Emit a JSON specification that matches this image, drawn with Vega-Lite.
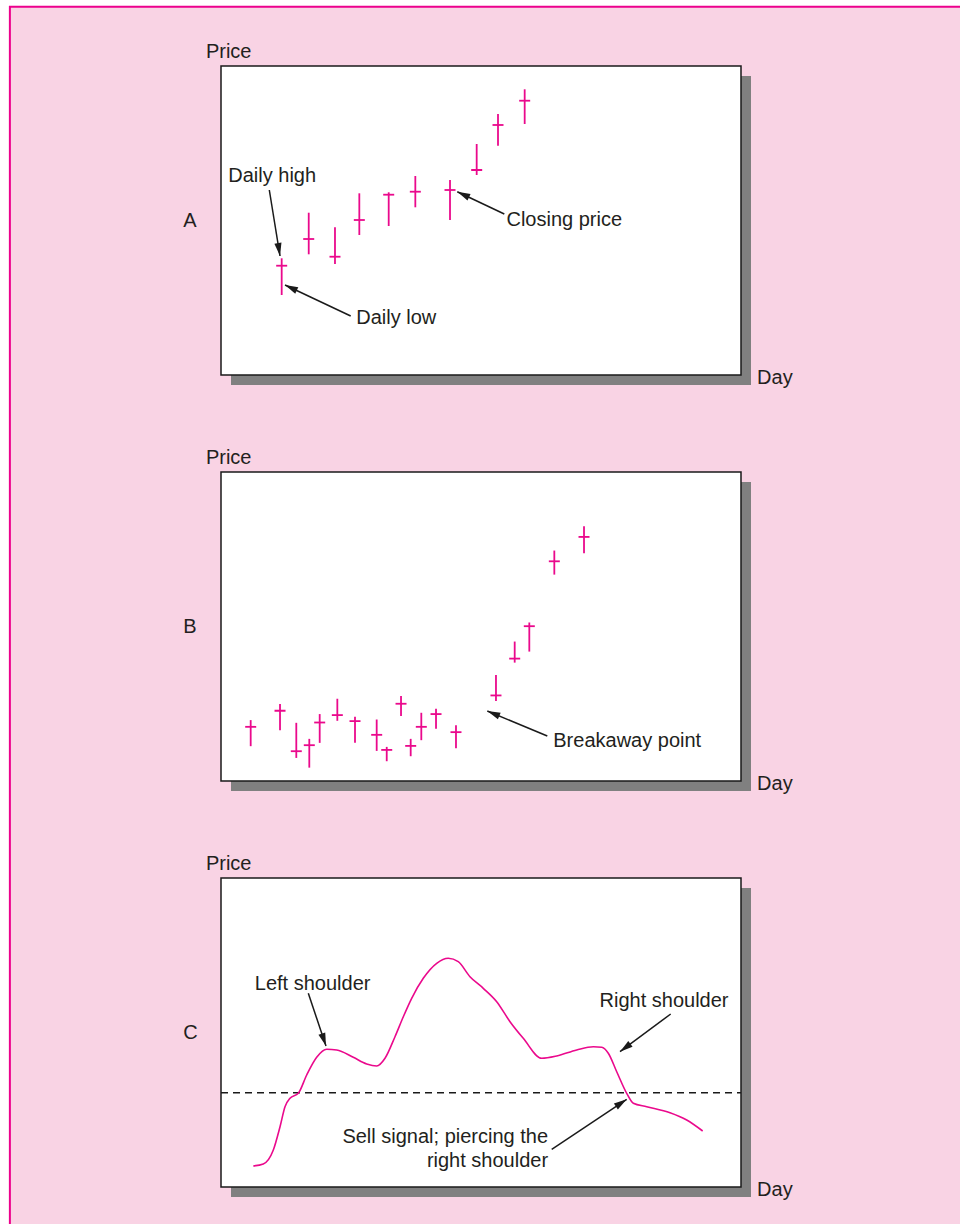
{
  "$schema": "https://vega.github.io/schema/vega-lite/v6.json",
  "autosize": {"type": "none"},
  "padding": {"left": 221, "top": 66, "right": 739, "bottom": 1158},
  "background": "white",
  "config": {
    "view": {"stroke": null, "fill": null},
    "text": {"font": "Liberation Sans", "fontSize": 20, "color": "#231f20"}
  },
  "datasets": {
    "one": [{}],
    "barsA": [
      {"day": 11.67, "low": 25.89, "high": 37.77, "close": 35.37},
      {"day": 16.87, "low": 39.06, "high": 52.52, "close": 44.01},
      {"day": 21.92, "low": 35.92, "high": 47.80, "close": 38.28},
      {"day": 26.60, "low": 45.31, "high": 58.80, "close": 50.16},
      {"day": 32.25, "low": 48.22, "high": 59.13, "close": 58.35},
      {"day": 37.37, "low": 54.27, "high": 64.40, "close": 59.32},
      {"day": 44.04, "low": 50.16, "high": 63.11, "close": 59.87},
      {"day": 49.17, "low": 64.72, "high": 74.76, "close": 66.34},
      {"day": 53.27, "low": 74.21, "high": 84.47, "close": 80.91},
      {"day": 58.40, "low": 81.23, "high": 92.46, "close": 88.77}
    ],
    "barsB": [
      {"day": 5.71, "low": 11.27, "high": 19.71, "close": 17.53},
      {"day": 11.35, "low": 16.46, "high": 24.90, "close": 22.73},
      {"day": 14.48, "low": 7.47, "high": 18.83, "close": 9.64},
      {"day": 16.98, "low": 4.32, "high": 13.64, "close": 11.59},
      {"day": 18.98, "low": 12.34, "high": 21.66, "close": 18.93},
      {"day": 22.37, "low": 19.48, "high": 26.62, "close": 21.33},
      {"day": 25.77, "low": 12.34, "high": 20.78, "close": 19.38},
      {"day": 29.94, "low": 9.74, "high": 19.90, "close": 14.94},
      {"day": 31.87, "low": 6.40, "high": 11.04, "close": 10.06},
      {"day": 34.62, "low": 21.01, "high": 27.50, "close": 25.00},
      {"day": 36.48, "low": 8.02, "high": 13.64, "close": 11.36},
      {"day": 38.52, "low": 13.21, "high": 22.08, "close": 17.53},
      {"day": 41.35, "low": 16.88, "high": 23.38, "close": 21.66},
      {"day": 45.19, "low": 10.62, "high": 18.08, "close": 15.81},
      {"day": 52.88, "low": 25.88, "high": 34.32, "close": 27.69},
      {"day": 56.48, "low": 38.31, "high": 45.13, "close": 39.61},
      {"day": 59.29, "low": 41.88, "high": 51.30, "close": 50.10},
      {"day": 64.10, "low": 66.79, "high": 74.58, "close": 71.10},
      {"day": 69.81, "low": 73.70, "high": 82.47, "close": 78.99}
    ],
    "curveC": [
      {"day": 6.21, "price": 6.80},
      {"day": 8.13, "price": 7.44},
      {"day": 10.06, "price": 11.97},
      {"day": 11.35, "price": 19.51},
      {"day": 12.31, "price": 25.99},
      {"day": 13.27, "price": 28.71},
      {"day": 14.87, "price": 30.32},
      {"day": 16.48, "price": 36.25},
      {"day": 18.40, "price": 41.97},
      {"day": 20.33, "price": 44.56},
      {"day": 22.25, "price": 44.34},
      {"day": 25.44, "price": 41.97},
      {"day": 28.02, "price": 39.81},
      {"day": 29.94, "price": 39.16},
      {"day": 31.54, "price": 41.65},
      {"day": 33.46, "price": 48.64},
      {"day": 35.06, "price": 55.11},
      {"day": 36.67, "price": 61.07},
      {"day": 38.90, "price": 67.54},
      {"day": 41.48, "price": 72.39},
      {"day": 43.71, "price": 74.01},
      {"day": 45.63, "price": 72.91},
      {"day": 47.88, "price": 68.06},
      {"day": 50.44, "price": 64.30},
      {"day": 53.02, "price": 59.97},
      {"day": 55.58, "price": 53.50},
      {"day": 58.13, "price": 48.12},
      {"day": 61.67, "price": 41.65},
      {"day": 64.56, "price": 42.39},
      {"day": 68.40, "price": 44.34},
      {"day": 71.60, "price": 45.40},
      {"day": 73.21, "price": 45.21},
      {"day": 74.48, "price": 43.27},
      {"day": 76.10, "price": 37.31},
      {"day": 78.02, "price": 30.32},
      {"day": 79.29, "price": 27.09},
      {"day": 81.87, "price": 25.99},
      {"day": 86.35, "price": 24.05},
      {"day": 89.56, "price": 21.68},
      {"day": 92.63, "price": 18.12}
    ],
    "arrows": [
      {"panel": "A", "day": 9.29, "price": 59.87, "day2": 11.35, "price2": 38.51},
      {"panel": "A", "day": 24.94, "price": 19.09, "day2": 12.31, "price2": 29.13},
      {"panel": "A", "day": 54.48, "price": 52.10, "day2": 45.44, "price2": 59.32},
      {"panel": "B", "day": 62.75, "price": 14.56, "day2": 51.21, "price2": 22.65},
      {"panel": "C", "day": 16.79, "price": 62.69, "day2": 20.19, "price2": 45.63},
      {"panel": "C", "day": 86.48, "price": 55.99, "day2": 76.73, "price2": 43.79},
      {"panel": "C", "day": 63.60, "price": 12.20, "day2": 78.02, "price2": 28.38}
    ],
    "notes": [
      {"panel": "A", "text": "Price", "day": -2.9, "price": 102.6},
      {"panel": "A", "text": "A", "day": -7.25, "price": 48.0},
      {"panel": "A", "text": "Day", "day": 103.1, "price": -2.9},
      {"panel": "A", "text": "Daily high", "day": 1.4, "price": 62.6},
      {"panel": "A", "text": "Daily low", "day": 26.0, "price": 16.4},
      {"panel": "A", "text": "Closing price", "day": 54.9, "price": 48.3},
      {"panel": "B", "text": "Price", "day": -2.9, "price": 102.6},
      {"panel": "B", "text": "B", "day": -7.25, "price": 48.0},
      {"panel": "B", "text": "Day", "day": 103.1, "price": -2.9},
      {"panel": "B", "text": "Breakaway point", "day": 63.9, "price": 11.0},
      {"panel": "C", "text": "Price", "day": -2.9, "price": 102.6},
      {"panel": "C", "text": "C", "day": -7.25, "price": 48.0},
      {"panel": "C", "text": "Day", "day": 103.1, "price": -2.9},
      {"panel": "C", "text": "Left shoulder", "day": 6.5, "price": 63.8},
      {"panel": "C", "text": "Right shoulder", "day": 72.8, "price": 58.4}
    ],
    "notesRight": [
      {"panel": "C", "text": "Sell signal; piercing the", "day": 62.9, "price": 14.1},
      {"panel": "C", "text": "right shoulder", "day": 62.9, "price": 6.6}
    ]
  },
  "spacing": 97,
  "bounds": "flush",
  "vconcat": [
    {
      "width": 520,
      "height": 309,
      "layer": [
        {
          "data": {"name": "one"},
          "mark": {"type": "rect", "fill": "#f9d3e4", "stroke": "#ec008c", "strokeWidth": 2},
          "encoding": {
            "x": {"datum": -40.6, "type": "quantitative", "scale": {"domain": [0, 100]}, "axis": null},
            "x2": {"datum": 150},
            "y": {"datum": 119.2, "type": "quantitative", "scale": {"domain": [0, 100]}, "axis": null},
            "y2": {"datum": -290}
          }
        },
        {
          "data": {"name": "one"},
          "mark": {"type": "rect", "color": "#808080", "xOffset": 10, "x2Offset": 10, "yOffset": 10, "y2Offset": 10},
          "encoding": {
            "x": {"datum": 0, "type": "quantitative", "scale": {"domain": [0, 100]}, "axis": null},
            "x2": {"datum": 100},
            "y": {"datum": 0, "type": "quantitative", "scale": {"domain": [0, 100]}, "axis": null},
            "y2": {"datum": 100}
          }
        },
        {
          "data": {"name": "one"},
          "mark": {"type": "rect", "fill": "white", "stroke": "#1a1a1a", "strokeWidth": 1.5},
          "encoding": {
            "x": {"datum": 0, "type": "quantitative", "scale": {"domain": [0, 100]}, "axis": null},
            "x2": {"datum": 100},
            "y": {"datum": 0, "type": "quantitative", "scale": {"domain": [0, 100]}, "axis": null},
            "y2": {"datum": 100}
          }
        },
        {
          "data": {"name": "barsA"},
          "mark": {"type": "rule", "color": "#ea098c", "strokeWidth": 1.8},
          "encoding": {
            "x": {"field": "day", "type": "quantitative", "scale": {"domain": [0, 100]}, "axis": null},
            "y": {"field": "low", "type": "quantitative", "scale": {"domain": [0, 100]}, "axis": null},
            "y2": {"field": "high"}
          }
        },
        {
          "data": {"name": "barsA"},
          "mark": {"type": "tick", "orient": "horizontal", "color": "#ea098c", "size": 11, "thickness": 1.8, "opacity": 1},
          "encoding": {
            "x": {"field": "day", "type": "quantitative", "scale": {"domain": [0, 100]}, "axis": null},
            "y": {"field": "close", "type": "quantitative", "scale": {"domain": [0, 100]}, "axis": null}
          }
        },
        {
          "data": {"name": "arrows"},
          "transform": [{"filter": "datum.panel === 'A'"}],
          "mark": {"type": "rule", "color": "#1a1a1a", "strokeWidth": 1.5},
          "encoding": {
            "x": {"field": "day", "type": "quantitative", "scale": {"domain": [0, 100]}, "axis": null},
            "y": {"field": "price", "type": "quantitative", "scale": {"domain": [0, 100]}, "axis": null},
            "x2": {"field": "day2"},
            "y2": {"field": "price2"}
          }
        },
        {
          "data": {"name": "arrows"},
          "transform": [
            {"filter": "datum.panel === 'A'"},
            {"calculate": "atan2((datum.day2 - datum.day) * 5.2, (datum.price2 - datum.price) * 3.09) * 180 / PI", "as": "ang"}
          ],
          "mark": {"type": "point", "shape": "M0,0L-0.55,2L0.55,2Z", "filled": true, "color": "#1a1a1a", "size": 169, "opacity": 1},
          "encoding": {
            "x": {"field": "day2", "type": "quantitative", "scale": {"domain": [0, 100]}, "axis": null},
            "y": {"field": "price2", "type": "quantitative", "scale": {"domain": [0, 100]}, "axis": null},
            "angle": {"field": "ang", "type": "quantitative", "scale": null}
          }
        },
        {
          "data": {"name": "notes"},
          "transform": [{"filter": "datum.panel === 'A'"}],
          "mark": {"type": "text", "align": "left", "baseline": "alphabetic"},
          "encoding": {
            "x": {"field": "day", "type": "quantitative", "scale": {"domain": [0, 100]}, "axis": null},
            "y": {"field": "price", "type": "quantitative", "scale": {"domain": [0, 100]}, "axis": null},
            "text": {"field": "text"}
          }
        }
      ]
    },
    {
      "width": 520,
      "height": 309,
      "layer": [
        {
          "data": {"name": "one"},
          "mark": {"type": "rect", "color": "#808080", "xOffset": 10, "x2Offset": 10, "yOffset": 10, "y2Offset": 10},
          "encoding": {
            "x": {"datum": 0, "type": "quantitative", "scale": {"domain": [0, 100]}, "axis": null},
            "x2": {"datum": 100},
            "y": {"datum": 0, "type": "quantitative", "scale": {"domain": [0, 100]}, "axis": null},
            "y2": {"datum": 100}
          }
        },
        {
          "data": {"name": "one"},
          "mark": {"type": "rect", "fill": "white", "stroke": "#1a1a1a", "strokeWidth": 1.5},
          "encoding": {
            "x": {"datum": 0, "type": "quantitative", "scale": {"domain": [0, 100]}, "axis": null},
            "x2": {"datum": 100},
            "y": {"datum": 0, "type": "quantitative", "scale": {"domain": [0, 100]}, "axis": null},
            "y2": {"datum": 100}
          }
        },
        {
          "data": {"name": "barsB"},
          "mark": {"type": "rule", "color": "#ea098c", "strokeWidth": 1.8},
          "encoding": {
            "x": {"field": "day", "type": "quantitative", "scale": {"domain": [0, 100]}, "axis": null},
            "y": {"field": "low", "type": "quantitative", "scale": {"domain": [0, 100]}, "axis": null},
            "y2": {"field": "high"}
          }
        },
        {
          "data": {"name": "barsB"},
          "mark": {"type": "tick", "orient": "horizontal", "color": "#ea098c", "size": 11, "thickness": 1.8, "opacity": 1},
          "encoding": {
            "x": {"field": "day", "type": "quantitative", "scale": {"domain": [0, 100]}, "axis": null},
            "y": {"field": "close", "type": "quantitative", "scale": {"domain": [0, 100]}, "axis": null}
          }
        },
        {
          "data": {"name": "arrows"},
          "transform": [{"filter": "datum.panel === 'B'"}],
          "mark": {"type": "rule", "color": "#1a1a1a", "strokeWidth": 1.5},
          "encoding": {
            "x": {"field": "day", "type": "quantitative", "scale": {"domain": [0, 100]}, "axis": null},
            "y": {"field": "price", "type": "quantitative", "scale": {"domain": [0, 100]}, "axis": null},
            "x2": {"field": "day2"},
            "y2": {"field": "price2"}
          }
        },
        {
          "data": {"name": "arrows"},
          "transform": [
            {"filter": "datum.panel === 'B'"},
            {"calculate": "atan2((datum.day2 - datum.day) * 5.2, (datum.price2 - datum.price) * 3.09) * 180 / PI", "as": "ang"}
          ],
          "mark": {"type": "point", "shape": "M0,0L-0.55,2L0.55,2Z", "filled": true, "color": "#1a1a1a", "size": 169, "opacity": 1},
          "encoding": {
            "x": {"field": "day2", "type": "quantitative", "scale": {"domain": [0, 100]}, "axis": null},
            "y": {"field": "price2", "type": "quantitative", "scale": {"domain": [0, 100]}, "axis": null},
            "angle": {"field": "ang", "type": "quantitative", "scale": null}
          }
        },
        {
          "data": {"name": "notes"},
          "transform": [{"filter": "datum.panel === 'B'"}],
          "mark": {"type": "text", "align": "left", "baseline": "alphabetic"},
          "encoding": {
            "x": {"field": "day", "type": "quantitative", "scale": {"domain": [0, 100]}, "axis": null},
            "y": {"field": "price", "type": "quantitative", "scale": {"domain": [0, 100]}, "axis": null},
            "text": {"field": "text"}
          }
        }
      ]
    },
    {
      "width": 520,
      "height": 309,
      "layer": [
        {
          "data": {"name": "one"},
          "mark": {"type": "rect", "color": "#808080", "xOffset": 10, "x2Offset": 10, "yOffset": 10, "y2Offset": 10},
          "encoding": {
            "x": {"datum": 0, "type": "quantitative", "scale": {"domain": [0, 100]}, "axis": null},
            "x2": {"datum": 100},
            "y": {"datum": 0, "type": "quantitative", "scale": {"domain": [0, 100]}, "axis": null},
            "y2": {"datum": 100}
          }
        },
        {
          "data": {"name": "one"},
          "mark": {"type": "rect", "fill": "white", "stroke": "#1a1a1a", "strokeWidth": 1.5},
          "encoding": {
            "x": {"datum": 0, "type": "quantitative", "scale": {"domain": [0, 100]}, "axis": null},
            "x2": {"datum": 100},
            "y": {"datum": 0, "type": "quantitative", "scale": {"domain": [0, 100]}, "axis": null},
            "y2": {"datum": 100}
          }
        },
        {
          "data": {"name": "one"},
          "mark": {"type": "rule", "color": "#1a1a1a", "strokeWidth": 1.3, "strokeDash": [7, 5]},
          "encoding": {
            "x": {"datum": 0, "type": "quantitative", "scale": {"domain": [0, 100]}, "axis": null},
            "x2": {"datum": 100},
            "y": {"datum": 30.5, "type": "quantitative", "scale": {"domain": [0, 100]}, "axis": null}
          }
        },
        {
          "data": {"name": "curveC"},
          "mark": {"type": "line", "color": "#ea098c", "strokeWidth": 1.6, "interpolate": "monotone"},
          "encoding": {
            "x": {"field": "day", "type": "quantitative", "scale": {"domain": [0, 100]}, "axis": null},
            "y": {"field": "price", "type": "quantitative", "scale": {"domain": [0, 100]}, "axis": null}
          }
        },
        {
          "data": {"name": "arrows"},
          "transform": [{"filter": "datum.panel === 'C'"}],
          "mark": {"type": "rule", "color": "#1a1a1a", "strokeWidth": 1.5},
          "encoding": {
            "x": {"field": "day", "type": "quantitative", "scale": {"domain": [0, 100]}, "axis": null},
            "y": {"field": "price", "type": "quantitative", "scale": {"domain": [0, 100]}, "axis": null},
            "x2": {"field": "day2"},
            "y2": {"field": "price2"}
          }
        },
        {
          "data": {"name": "arrows"},
          "transform": [
            {"filter": "datum.panel === 'C'"},
            {"calculate": "atan2((datum.day2 - datum.day) * 5.2, (datum.price2 - datum.price) * 3.09) * 180 / PI", "as": "ang"}
          ],
          "mark": {"type": "point", "shape": "M0,0L-0.55,2L0.55,2Z", "filled": true, "color": "#1a1a1a", "size": 169, "opacity": 1},
          "encoding": {
            "x": {"field": "day2", "type": "quantitative", "scale": {"domain": [0, 100]}, "axis": null},
            "y": {"field": "price2", "type": "quantitative", "scale": {"domain": [0, 100]}, "axis": null},
            "angle": {"field": "ang", "type": "quantitative", "scale": null}
          }
        },
        {
          "data": {"name": "notes"},
          "transform": [{"filter": "datum.panel === 'C'"}],
          "mark": {"type": "text", "align": "left", "baseline": "alphabetic"},
          "encoding": {
            "x": {"field": "day", "type": "quantitative", "scale": {"domain": [0, 100]}, "axis": null},
            "y": {"field": "price", "type": "quantitative", "scale": {"domain": [0, 100]}, "axis": null},
            "text": {"field": "text"}
          }
        },
        {
          "data": {"name": "notesRight"},
          "mark": {"type": "text", "align": "right", "baseline": "alphabetic"},
          "encoding": {
            "x": {"field": "day", "type": "quantitative", "scale": {"domain": [0, 100]}, "axis": null},
            "y": {"field": "price", "type": "quantitative", "scale": {"domain": [0, 100]}, "axis": null},
            "text": {"field": "text"}
          }
        }
      ]
    }
  ]
}
